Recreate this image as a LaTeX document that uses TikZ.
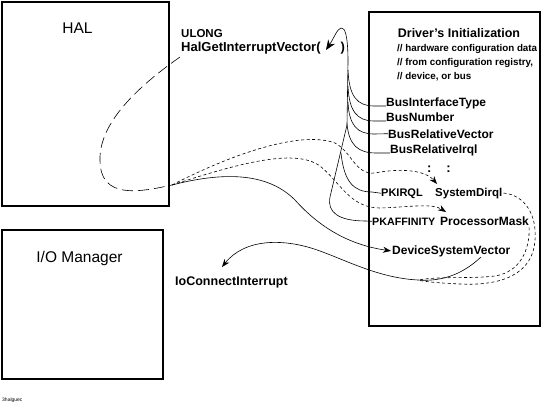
\documentclass[tikz,border=0pt]{standalone}
\usepackage{fontspec}
\setmainfont{Liberation Sans}
\usetikzlibrary{arrows.meta}
\begin{document}
\begin{tikzpicture}[x=1pt,y=-1pt,
  box/.style={draw, line width=2.4pt},
  lbl/.style={font=\bfseries\fontsize{12}{14}\selectfont, inner sep=0pt, anchor=base west},
  big/.style={font=\fontsize{15.5}{18}\selectfont, inner sep=0pt, anchor=base},
  wire/.style={line width=0.6pt},
  longdash/.style={wire, dash pattern=on 11pt off 5pt},
  shortdash/.style={wire, dash pattern=on 3pt off 2.5pt},
  tip/.style={-{Stealth[length=8pt,width=6pt]}},
  bigtip/.style={-{Stealth[length=10pt,width=8pt]}}
]
\useasboundingbox (0,0) rectangle (543,405);

% boxes
\draw[box] (2,2) rectangle (169,206);
\draw[box] (2,230) rectangle (163,379);
\draw[box] (369,12) rectangle (540,326);

% box titles
\node[big] (halt) at (77.5,33.5) {HAL};
\node[big] (iot) at (79.5,262.5) {I/O Manager};
\node[lbl, anchor=base, font=\bfseries\fontsize{12.5}{15}\selectfont] (drv) at (459,37.5) {Driver's Initialization};

% HAL call text
\node[lbl, font=\bfseries\fontsize{11.5}{14}\selectfont] (ulong) at (181,37) {ULONG};
\node[lbl, font=\bfseries\fontsize{13}{15}\selectfont] (hgiv) at (181,51) {HalGetInterruptVector(\hspace{20pt})};

% comments
\node[lbl, font=\bfseries\fontsize{9.8}{12}\selectfont] (c1) at (397,51.5) {// hardware configuration data};
\node[lbl, font=\bfseries\fontsize{9.8}{12}\selectfont] (c2) at (397,65.5) {// from configuration registry,};
\node[lbl, font=\bfseries\fontsize{9.8}{12}\selectfont] (c3) at (397,79.5) {// device, or bus};

% parameter labels
\node[lbl] (bit) at (386,106) {BusInterfaceType};
\node[lbl] (bn)  at (386,121) {BusNumber};
\node[lbl] (brv) at (388,138) {BusRelativeVector};
\node[lbl] (bri) at (390,153) {BusRelativeIrql};
\node[lbl, anchor=base, font=\bfseries\fontsize{13}{15}\selectfont] (dots) at (439,172) {:\hspace{15pt}:};
\node[lbl, font=\bfseries\fontsize{11}{13}\selectfont] (pk) at (381,196) {PKIRQL};
\node[lbl, font=\bfseries\fontsize{11.5}{13}\selectfont] (sysd) at (435,196) {SystemDirql};
\node[lbl, font=\bfseries\fontsize{10.7}{13}\selectfont] (pka) at (372,225) {PKAFFINITY};
\node[lbl] (pm) at (440,225) {ProcessorMask};
\node[lbl] (dsv) at (392,254) {DeviceSystemVector};
\node[lbl, font=\bfseries\fontsize{12.5}{15}\selectfont] (ioc) at (175,285.5) {IoConnectInterrupt};
\node[lbl, font=\fontsize{5}{6}\selectfont] (fn) at (2,401.5) {3halguec};

% named points
\coordinate (hs) at (180,57);
\coordinate (split) at (172,185);
\coordinate (sdtip) at (437,184);
\coordinate (pmtip) at (446,212);
\coordinate (jn) at (418,280);
\coordinate (dsvb) at (481,257);
\coordinate (ioctip) at (222,267);
\coordinate (hgtip) at (326,50);

% dashed return from HAL
\draw[longdash] (hs) .. controls (140,85) and (99,122) .. (100,160)
  .. controls (100,200) and (140,192) .. (split);

% three result lines
\draw[wire, tip] (split) .. controls (230,170) and (270,175) .. (295,200)
  .. controls (320,228) and (350,245) .. ([xshift=-1pt]dsv.west);
\draw[shortdash, tip] (split) .. controls (230,155) and (300,130) .. (335,143)
  .. controls (352,152) and (355,175) .. (375,173)
  .. controls (400,168) and (425,170) .. (sdtip);
\draw[shortdash, tip] (split) .. controls (240,163) and (295,148) .. (320,166)
  .. controls (340,182) and (350,208) .. (380,208)
  .. controls (410,207) and (432,203) .. (pmtip);

% DeviceSystemVector -> IoConnectInterrupt
\draw[wire, tip] (dsvb) .. controls (465,272) and (445,282) .. (jn)
  .. controls (380,278) and (350,262) .. (320,251)
  .. controls (285,238) and (245,238) .. (ioctip);

% dotted loops from SystemDirql and ProcessorMask
\draw[shortdash] ([xshift=1pt]sysd.east) .. controls (525,195) and (537,215) .. (535,240)
  .. controls (533,275) and (500,286) .. (460,284)
  .. controls (440,283) and (426,282) .. (jn);
\draw[shortdash] ([yshift=-2pt]pm.south east) .. controls (530,250) and (520,272) .. (495,276)
  .. controls (470,279) and (440,276) .. (jn);

% trunk: parameters into HalGetInterruptVector( )
\draw[wire, bigtip] (pka.west) -- (366,221) .. controls (338,221) and (327,212) .. (330,197)
  -- (347,125) -- (348,62) .. controls (348,36) and (345,27) .. (341,28)
  .. controls (337,29) and (334,38) .. (hgtip);

% branches
\draw[wire] (348,70) .. controls (349,96) and (357,106) .. (374,106) -- (bit.base west);
\draw[wire] (348,86) .. controls (349,111) and (357,121) .. (374,121) -- (bn.base west);
\draw[wire] (348,102) .. controls (349,125) and (357,134) .. (374,134) -- (brv.west);
\draw[wire] (347,124) .. controls (349,145) and (358,153) .. (376,153) -- (bri.base west);
\draw[wire] (341,153) .. controls (344,181) and (353,192) .. (372,192) -- (pk.west);
\end{tikzpicture}
\end{document}
